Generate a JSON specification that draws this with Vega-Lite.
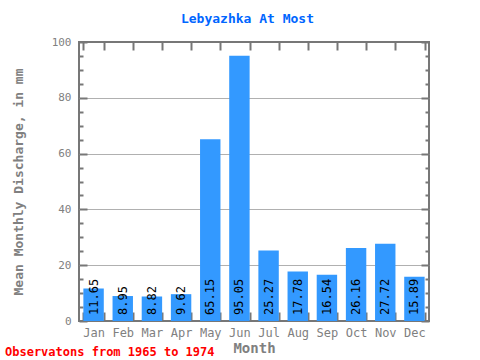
{
  "$schema": "https://vega.github.io/schema/vega-lite/v6.json",
  "width": 350,
  "height": 279,
  "autosize": {"type": "none"},
  "padding": {"left": 79, "top": 42, "right": 51, "bottom": 39},
  "background": "white",
  "title": {
    "text": "Observatons from 1965 to 1974",
    "orient": "bottom",
    "anchor": "start",
    "frame": "group",
    "dx": -74,
    "offset": -8,
    "color": "#ff0000",
    "font": "DejaVu Sans Mono",
    "fontSize": 12,
    "fontWeight": "bold"
  },
  "config": {
    "view": {"stroke": "#777777", "strokeWidth": 2},
    "axis": {
      "domain": false,
      "tickColor": "#777777",
      "tickWidth": 2,
      "labelFont": "DejaVu Sans Mono",
      "labelColor": "#808080",
      "titleFont": "DejaVu Sans Mono",
      "titleColor": "#808080",
      "titleFontWeight": "bold"
    }
  },
  "data": {
    "values": [
      {"month": "Jan", "value": 11.65},
      {"month": "Feb", "value": 8.95},
      {"month": "Mar", "value": 8.82},
      {"month": "Apr", "value": 9.62},
      {"month": "May", "value": 65.15},
      {"month": "Jun", "value": 95.05},
      {"month": "Jul", "value": 25.27},
      {"month": "Aug", "value": 17.78},
      {"month": "Sep", "value": 16.54},
      {"month": "Oct", "value": 26.16},
      {"month": "Nov", "value": 27.72},
      {"month": "Dec", "value": 15.89}
    ]
  },
  "layer": [
    {
      "mark": {"type": "bar", "color": "#3399ff"},
      "encoding": {
        "x": {
          "field": "month", "type": "nominal", "sort": null,
          "scale": {"paddingInner": 0.3, "paddingOuter": 0.15},
          "axis": {
            "orient": "bottom", "title": "Month", "tickBand": "extent",
            "tickSize": -9, "labelPadding": 15, "labelAngle": 0,
            "labelFontSize": 12, "titleFontSize": 14, "titlePadding": 3, "grid": false
          }
        },
        "y": {
          "field": "value", "type": "quantitative",
          "scale": {"domain": [0, 100], "nice": false},
          "axis": {
            "orient": "left",
            "title": "Mean Monthly Discharge, in mm",
            "values": [0, 20, 40, 60, 80, 100],
            "tickSize": -8,
            "labelPadding": 16,
            "labelFontSize": 11,
            "titleFontSize": 13,
            "titlePadding": 26,
            "grid": true,
            "gridColor": "#b0b0b0",
            "gridOpacity": {"condition": {"test": "datum.value > 0 && datum.value < 100", "value": 1}, "value": 0}
          }
        }
      }
    },
    {
      "mark": {"type": "text", "align": "left", "baseline": "middle", "dx": 6, "font": "DejaVu Sans Mono", "fontSize": 12, "color": "#000000"},
      "encoding": {
        "x": {
          "field": "month", "type": "nominal", "sort": null,
          "axis": {
            "orient": "top", "title": "Lebyazhka At Most", "tickBand": "extent",
            "tickSize": -8, "labels": false, "grid": false,
            "titleColor": "#0066ff", "titleFontSize": 13, "titlePadding": 16, "titleX": 168
          }
        },
        "y": {
          "datum": 0, "type": "quantitative",
          "axis": {
            "orient": "right", "title": null,
            "values": [0, 20, 40, 60, 80, 100],
            "tickSize": -8, "labels": false, "grid": false
          }
        },
        "angle": {"value": 270},
        "text": {"field": "value", "type": "quantitative", "format": ".2f"}
      }
    },
    {
      "mark": {"type": "bar", "opacity": 0},
      "encoding": {
        "x": {"field": "month", "type": "nominal", "sort": null, "axis": null},
        "y": {
          "field": "value", "type": "quantitative",
          "axis": {
            "orient": "left", "title": null,
            "values": [5, 10, 15, 25, 30, 35, 45, 50, 55, 65, 70, 75, 85, 90, 95],
            "tickSize": -4, "labels": false, "grid": false
          }
        }
      }
    },
    {
      "mark": {"type": "bar", "opacity": 0},
      "encoding": {
        "x": {"field": "month", "type": "nominal", "sort": null, "axis": null},
        "y": {
          "field": "value", "type": "quantitative",
          "axis": {
            "orient": "right", "title": null,
            "values": [5, 10, 15, 25, 30, 35, 45, 50, 55, 65, 70, 75, 85, 90, 95],
            "tickSize": -4, "labels": false, "grid": false
          }
        }
      }
    }
  ],
  "resolve": {"axis": {"x": "independent", "y": "independent"}}
}
